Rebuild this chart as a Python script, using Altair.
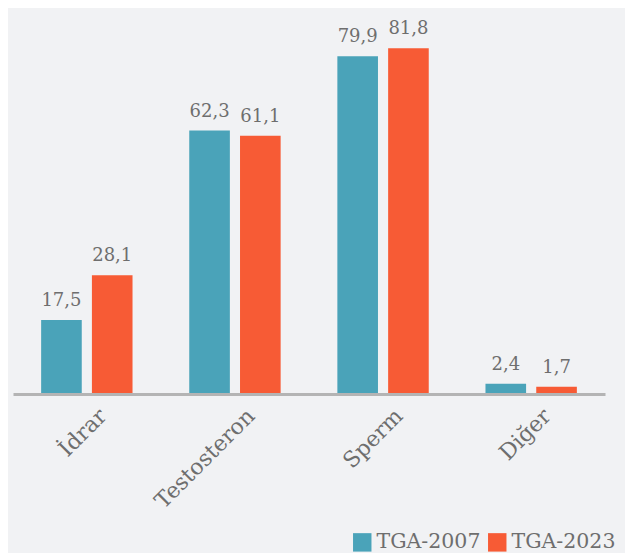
import altair as alt
import pandas as pd

categories = ["İdrar", "Testosteron", "Sperm", "Diğer"]
series = ["TGA-2007", "TGA-2023"]
tga2007 = [17.5, 62.3, 79.9, 2.4]
tga2023 = [28.1, 61.1, 81.8, 1.7]
colors = ["#4AA3B9", "#F75B35"]

rows = []
for c, a, b in zip(categories, tga2007, tga2023):
    rows.append({"cat": c, "series": series[0], "value": a, "label": f"{a:.1f}".replace(".", ",")})
    rows.append({"cat": c, "series": series[1], "value": b, "label": f"{b:.1f}".replace(".", ",")})
df = pd.DataFrame(rows)

FONT = "DejaVu Serif"
GRAY = "#6e6e6e"

base = alt.Chart(df).encode(
    x=alt.X(
        "cat:N",
        sort=categories,
        scale=alt.Scale(paddingInner=0.383, paddingOuter=0.19),
        axis=alt.Axis(
            title=None,
            domain=True,
            domainColor="#b4b4b4",
            domainWidth=3,
            ticks=False,
            labelAngle=-45,
            labelFont=FONT,
            labelFontSize=22,
            labelColor=GRAY,
            labelOffset=9,
            labelPadding=11,
            zindex=1,
        ),
    ),
    xOffset=alt.XOffset("series:N", sort=series, scale=alt.Scale(paddingInner=0.2, paddingOuter=0)),
    y=alt.Y("value:Q", scale=alt.Scale(domain=[0, 91.3]), axis=None),
)

bars = base.mark_bar().encode(
    color=alt.Color(
        "series:N",
        sort=series,
        scale=alt.Scale(domain=series, range=colors),
        legend=alt.Legend(
            title=None,
            orient="none",
            direction="horizontal",
            legendX=339,
            legendY=524,
            symbolType="square",
            symbolSize=340,
            symbolStrokeWidth=0,
            symbolOpacity=1,
            labelFont=FONT,
            labelFontSize=20.5,
            labelColor=GRAY,
            labelOffset=4,
            columnPadding=6,
            padding=0,
        ),
    )
)

texts = base.mark_text(
    baseline="alphabetic", dy=-14, font=FONT, fontSize=18, color=GRAY
).encode(text="label:N")

chart = (
    alt.layer(bars, texts)
    .properties(
        width=592,
        height=386,
        padding={"left": 5, "top": 0, "right": 20, "bottom": 159},
        autosize=alt.AutoSizeParams(type="none"),
        background="#f1f2f4",
    )
    .configure_view(stroke=None)
)

chart.save("out.html", embed_options={"renderer": "svg", "actions": False})
